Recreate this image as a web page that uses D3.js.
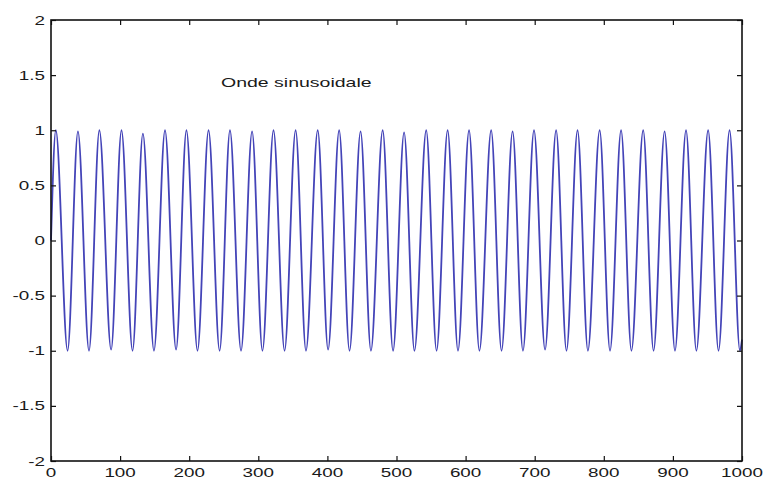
<!DOCTYPE html>
<html>
<head>
<meta charset="utf-8">
<script src="https://cdn.jsdelivr.net/npm/d3@7"></script>
<style>
  html, body { margin: 0; padding: 0; background: #ffffff; }
  svg { display: block; }
  text { font-family: "Liberation Sans", Arial, sans-serif; fill: #1a1a1a; }
</style>
</head>
<body>
<svg id="chart" width="768" height="483"></svg>
<script>
// Axis ticks
const xTicks = [0, 100, 200, 300, 400, 500, 600, 700, 800, 900, 1000];
const yTicks = [-2, -1.5, -1, -0.5, 0, 0.5, 1, 1.5, 2];

// Wave extrema (time, amplitude)
const peakT = [7, 39, 70, 102, 133, 165, 196, 228, 259, 291, 322, 354, 386, 417, 448, 480,
               511, 543, 574, 605, 637, 668, 699, 731, 762, 794, 825, 857, 888, 919, 951, 982];
const peakY = [1, 0.99, 1, 1, 0.97, 1, 1, 1, 1, 0.99, 1, 1, 1, 1, 0.99, 1,
               0.98, 1, 1, 1, 1, 0.99, 1, 1, 1, 1, 1, 1, 0.99, 1, 1, 1];
const troughT = [24, 55, 87, 118, 149, 181, 212, 244, 275, 306, 338, 369, 401, 432, 463, 495,
                 526, 558, 589, 620, 652, 683, 715, 746, 777, 809, 840, 872, 903, 934, 966, 997];
const troughY = [-1, -1, -0.99, -1, -1, -0.99, -1, -1, -1, -1, -1, -1, -0.99, -1, -1, -1,
                 -1, -1, -1, -1, -1, -1, -0.99, -1, -1, -1, -1, -1, -1, -1, -1, -1];
const startPoint = [0, 0];
const endPoint = [1000, -0.9];

const title = "Onde sinusoidale";

const wave = [startPoint]
  .concat(peakT.map((t, i) => [t, peakY[i]]))
  .concat(troughT.map((t, i) => [t, troughY[i]]))
  .concat([endPoint])
  .sort((a, b) => a[0] - b[0]);

const svg = d3.select("#chart");
const plotLeft = 51, plotRight = 742, plotTop = 20, plotBottom = 461;

const x = d3.scaleLinear().domain([0, 1000]).range([plotLeft, plotRight]);
const y = d3.scaleLinear().domain([-2, 2]).range([plotBottom, plotTop]);

// Horizontally stretched label text
const stretch = 1.45;

// Series
const line = d3.line()
  .x(d => x(d[0]))
  .y(d => y(d[1]))
  .curve(d3.curveMonotoneX);

svg.append("path")
  .datum(wave)
  .attr("d", line)
  .attr("fill", "none")
  .attr("stroke", "#4444b8")
  .attr("stroke-width", 1.8)
  .attr("stroke-linejoin", "round");

// Axes with inward ticks on all four sides
const tickLen = 5;
svg.append("g")
  .attr("transform", `translate(0,${plotBottom})`)
  .call(d3.axisBottom(x).tickValues(xTicks).tickSizeInner(-tickLen).tickSizeOuter(0).tickFormat(""))
  .call(g => g.select(".domain").remove());
svg.append("g")
  .attr("transform", `translate(0,${plotTop})`)
  .call(d3.axisTop(x).tickValues(xTicks).tickSizeInner(-tickLen).tickSizeOuter(0).tickFormat(""))
  .call(g => g.select(".domain").remove());
svg.append("g")
  .attr("transform", `translate(${plotLeft},0)`)
  .call(d3.axisLeft(y).tickValues(yTicks).tickSizeInner(-tickLen).tickSizeOuter(0).tickFormat(""))
  .call(g => g.select(".domain").remove());
svg.append("g")
  .attr("transform", `translate(${plotRight},0)`)
  .call(d3.axisRight(y).tickValues(yTicks).tickSizeInner(-tickLen).tickSizeOuter(0).tickFormat(""))
  .call(g => g.select(".domain").remove());

svg.selectAll(".tick line").attr("stroke", "#111").attr("stroke-width", 1.2);

// Frame
svg.append("rect")
  .attr("x", plotLeft).attr("y", plotTop)
  .attr("width", plotRight - plotLeft).attr("height", plotBottom - plotTop)
  .attr("fill", "none")
  .attr("stroke", "#111")
  .attr("stroke-width", 1.6);

// Tick labels
svg.append("g").selectAll("text")
  .data(xTicks)
  .join("text")
  .attr("transform", d => `translate(${x(d)},477) scale(${stretch},1)`)
  .attr("text-anchor", "middle")
  .attr("font-size", 13)
  .text(d => d);

svg.append("g").selectAll("text")
  .data(yTicks)
  .join("text")
  .attr("transform", d => `translate(45,${y(d) + 4.5}) scale(${stretch},1)`)
  .attr("text-anchor", "end")
  .attr("font-size", 13)
  .text(d => String(d));

// Title annotation
svg.append("text")
  .attr("transform", `translate(221,87) scale(1.5,1)`)
  .attr("font-size", 13)
  .text(title);
</script>
</body>
</html>
